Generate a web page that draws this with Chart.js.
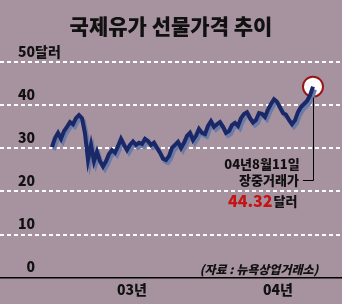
<!DOCTYPE html>
<html>
<head>
<meta charset="utf-8">
<script src="https://cdn.jsdelivr.net/npm/chart.js@4/dist/chart.umd.min.js"></script>
<style>
html, body { margin: 0; padding: 0; background: #a7929f; }
#wrap { width: 342px; height: 304px; position: relative; }
</style>
</head>
<body>
<div id="wrap"><canvas id="oilChart"></canvas></div>
<script>
// weekly index (0 = first week shown) and price in $/bbl
var prices = [
    30.3, 32.4, 33.6, 32.2, 34.0, 35.0, 36.1, 35.6, 37.0, 37.7,
    37.0, 33.5, 27.3, 30.8, 27.0, 29.2, 27.0, 25.8, 27.0, 28.7,
    29.6, 29.0, 30.5, 32.2, 30.8, 29.6, 30.8, 31.6, 30.8, 31.3,
    31.0, 32.2, 31.7, 30.8, 31.3, 30.1, 29.0, 27.6, 27.3, 28.2,
    30.1, 30.8, 31.5, 30.1, 31.3, 32.9, 33.6, 31.9, 32.9, 34.5,
    33.6, 33.3, 35.2, 36.3, 35.0, 35.6, 36.1, 35.0, 33.6, 34.0,
    35.4, 35.9, 35.2, 37.0, 38.0, 38.4, 37.0, 36.0, 36.6, 38.2,
    38.0, 37.3, 39.0, 40.3, 41.4, 40.8, 39.5, 38.2, 37.8, 36.6,
    35.6, 36.5, 38.4, 39.6, 40.3, 41.0, 42.3, 44.32
];
var weeks = prices.map(function (p, i) { return i; });
var yearTicks = [26.67, 75.33];
var yearLabels = ['03년', '04년'];
var lastDate = '04년8월11일';
var lastNote = '장중거래가';
var lastPrice = '44.32';
var source = '(자료 : 뉴욕상업거래소)';

var linePoints = weeks.map(function (w, i) { return { x: w, y: prices[i] }; });
var last = prices.length - 1;

Chart.defaults.font.family = "'Noto Sans CJK KR', 'Noto Sans', sans-serif";
Chart.defaults.color = '#111';

var bg = {
    id: 'bg',
    beforeDraw: function (chart) {
        var ctx = chart.ctx;
        ctx.save();
        ctx.fillStyle = '#a7929f';
        ctx.fillRect(0, 0, chart.width, chart.height);
        ctx.restore();
    }
};

var shadow = {
    id: 'shadow',
    beforeDatasetDraw: function (chart, args) {
        if (args.index !== 0) return;
        var ctx = chart.ctx;
        ctx.save();
        ctx.shadowColor = '#6c7ca8';
        ctx.shadowOffsetX = 2;
        ctx.shadowOffsetY = 3;
        ctx.shadowBlur = 0;
    },
    afterDatasetDraw: function (chart, args) {
        if (args.index === 0) chart.ctx.restore();
    }
};

var notes = {
    id: 'notes',
    afterDraw: function (chart) {
        var ctx = chart.ctx;
        var px = Math.round(chart.scales.x.getPixelForValue(weeks[last])) + 0.5;
        var py = chart.scales.y.getPixelForValue(prices[last]);
        ctx.save();
        ctx.strokeStyle = '#000';
        ctx.lineWidth = 1;
        ctx.beginPath();
        ctx.moveTo(px, py + 11);
        ctx.lineTo(px, 180.5);
        ctx.lineTo(303, 180.5);
        ctx.stroke();

        ctx.textBaseline = 'middle';
        ctx.fillStyle = '#111';
        ctx.textAlign = 'center';
        ctx.font = "900 13px 'Noto Sans CJK KR'";
        ctx.fillText(lastDate, 262, 164);
        ctx.fillText(lastNote, 269, 180);

        ctx.textAlign = 'left';
        ctx.font = "900 16px 'Noto Sans CJK KR'";
        ctx.fillStyle = '#c41414';
        ctx.fillText(lastPrice, 228, 201);
        var w = ctx.measureText(lastPrice).width;
        ctx.font = "900 13px 'Noto Sans CJK KR'";
        ctx.fillStyle = '#111';
        ctx.fillText('달러', 228 + w + 1, 201);

        ctx.textAlign = 'center';
        ctx.font = "italic 900 12px 'Noto Sans CJK KR'";
        ctx.fillText(source, 259, 269);
        ctx.restore();
    }
};

new Chart(document.getElementById('oilChart'), {
    type: 'line',
    data: {
        datasets: [{
            data: linePoints,
            borderColor: '#1b2868',
            borderWidth: 4,
            pointRadius: 0,
            tension: 0,
            fill: false,
            order: 1
        }, {
            data: [linePoints[last]],
            showLine: false,
            pointRadius: 10,
            pointBackgroundColor: '#ffffff',
            pointBorderColor: '#9a1616',
            pointBorderWidth: 2,
            order: 2
        }]
    },
    options: {
        responsive: true,
        maintainAspectRatio: false,
        animation: false,
        layout: { autoPadding: false, padding: { left: 0, right: 0, top: 0, bottom: 1 } },
        plugins: {
            legend: { display: false },
            tooltip: { enabled: false },
            title: {
                display: true,
                text: '국제유가 선물가격 추이',
                color: '#111',
                font: { size: 21, weight: '900' },
                padding: { top: 13, bottom: 24 }
            }
        },
        scales: {
            x: {
                type: 'linear',
                min: -17.33,
                max: 96.67,
                grid: { display: false, drawTicks: false },
                border: { display: true, color: '#000', width: 1.5 },
                afterBuildTicks: function (s) {
                    s.ticks = yearTicks.map(function (v) { return { value: v }; });
                },
                ticks: {
                    padding: 4,
                    autoSkip: false,
                    maxRotation: 0,
                    color: '#111',
                    font: { size: 14, weight: '900' },
                    callback: function (v, i) { return yearLabels[i]; }
                }
            },
            y: {
                min: 0,
                max: 50,
                afterFit: function (s) { s.width = 0; },
                border: { display: false, dash: [4, 3] },
                grid: {
                    drawTicks: false,
                    lineWidth: 2,
                    color: function (c) { return c.tick && c.tick.value === 0 ? 'rgba(0,0,0,0)' : '#ffffff'; }
                },
                ticks: {
                    stepSize: 10,
                    mirror: true,
                    padding: 18,
                    labelOffset: -11,
                    color: '#111',
                    font: { size: 14, weight: '900' },
                    callback: function (v) {
                        if (v === 50) return v + '달러';
                        if (v === 0) return '\u2007' + v;
                        return v;
                    }
                }
            }
        }
    },
    plugins: [bg, shadow, notes]
});
</script>
</body>
</html>
